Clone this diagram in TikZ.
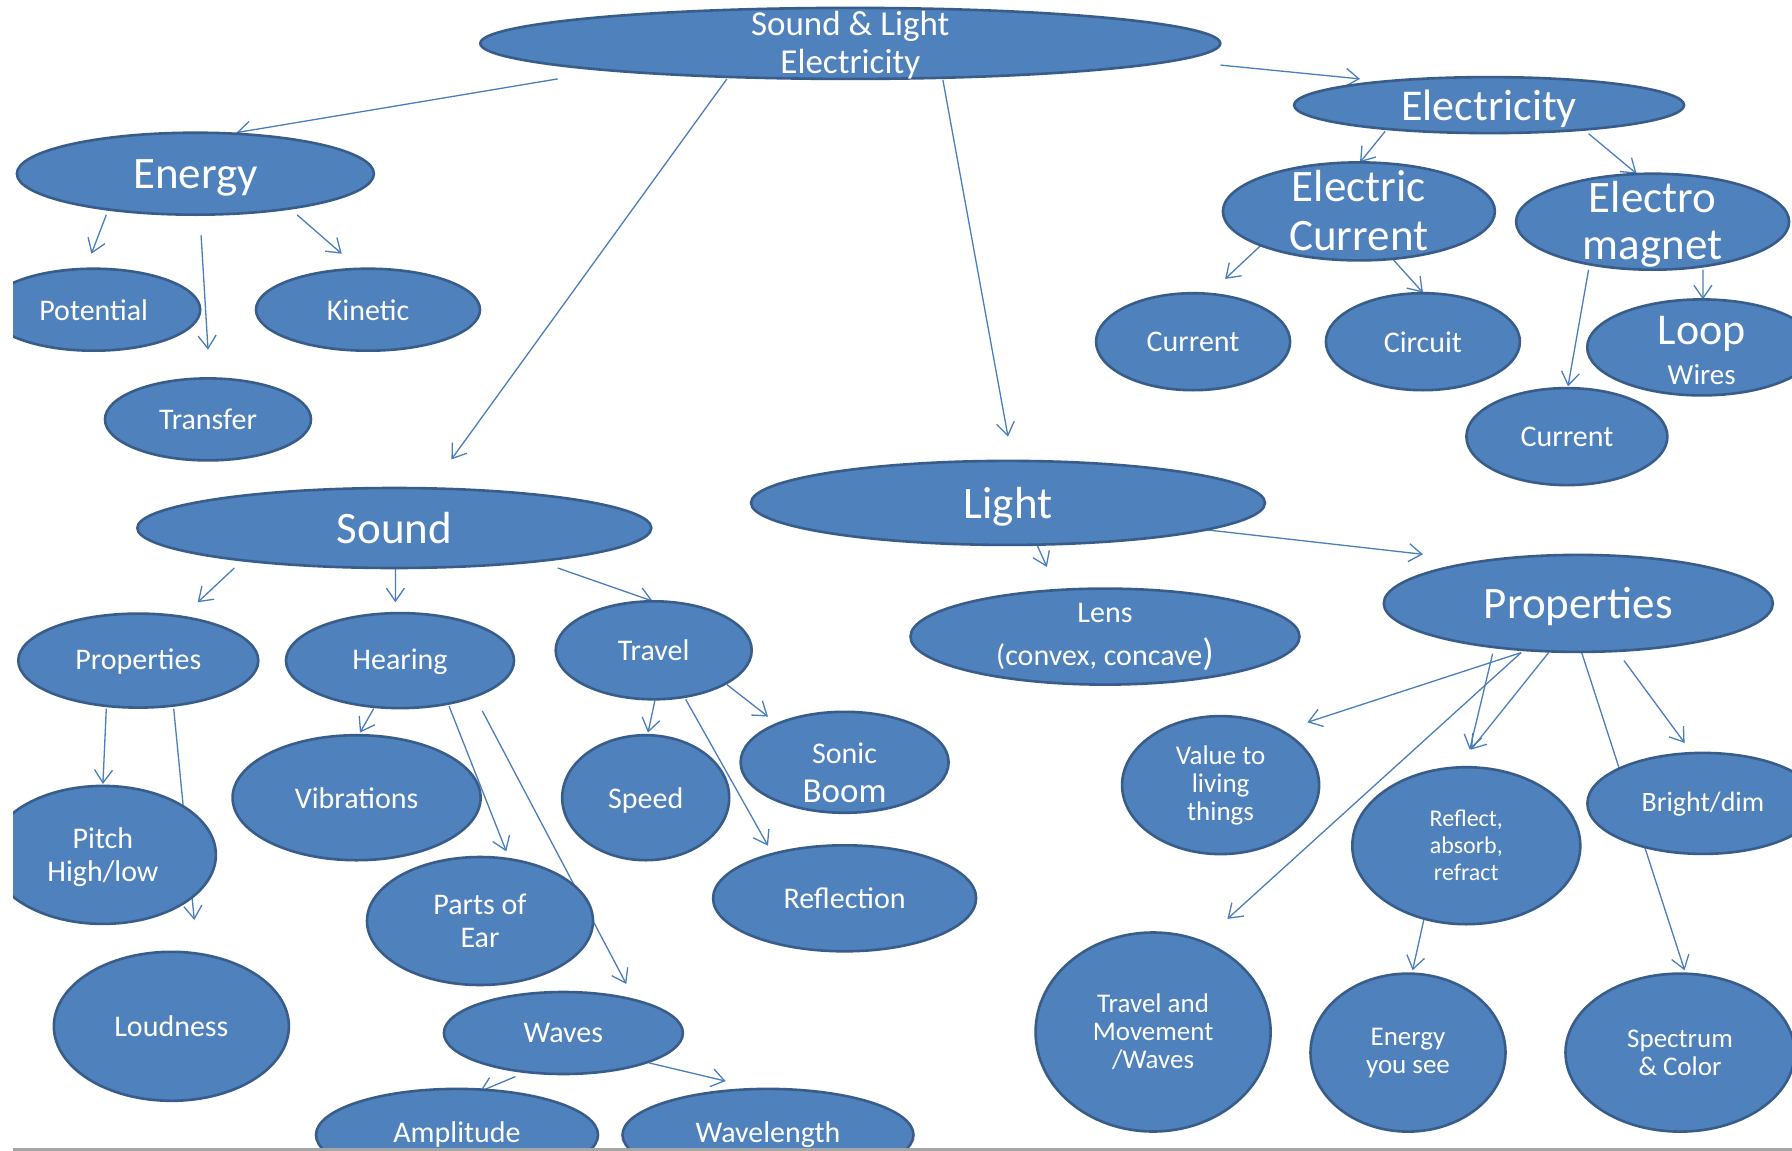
\documentclass[tikz,border=0pt]{standalone}
\usepackage{fontspec}
\setmainfont{Carlito}
\usetikzlibrary{shapes.geometric,arrows.meta,calc,backgrounds}
\definecolor{bubfill}{HTML}{4F81BD}
\definecolor{bubline}{HTML}{385D8A}
\definecolor{linkcol}{HTML}{4A7EBB}
\definecolor{rulegray}{HTML}{A6A6A6}
\tikzset{
  bub/.style 2 args={ellipse, fill=bubfill, draw=bubline, line width=2.6pt,
    minimum width=#1, minimum height=#2, inner sep=0pt, outer sep=0pt},
  lbl/.style 2 args={text=white, align=center, inner sep=0pt, anchor=center,
    font=\fontsize{#1}{#2}\selectfont},
  one/.style={text depth=0pt},
  conn/.style={draw=linkcol, line width=1.3pt,
    -{Straight Barb[length=13pt,width=18pt,line width=1.3pt]}},
}
\begin{document}
\begin{tikzpicture}[x=1pt,y=-1pt]
\useasboundingbox (0,0) rectangle (1792,1151);
\begin{scope}
\clip (13,0) rectangle (1792,1147);

% ---------- nodes ----------
\node[bub={740}{71}, label={[lbl={35}{38}, yshift=-2pt]center:Sound \& Light\\Electricity}] (root) at (850.3,43.4) {};

\node[bub={357}{82}, label={[lbl={45}{48}, one]center:Energy}] (energy) at (195.4,173.7) {};
\node[bub={213}{82}, label={[lbl={30}{33}, one]center:Potential}] (potential) at (93.7,309.7) {};
\node[bub={224}{82}, label={[lbl={30}{33}, one]center:Kinetic}] (kinetic) at (368,309.7) {};
\node[bub={206}{82}, label={[lbl={30}{33}, one]center:Transfer}] (transfer) at (208,419.4) {};

\node[bub={514}{80}, label={[lbl={45}{48}, one]center:Sound}] (sound) at (394.3,528) {};
\node[bub={240}{94}, label={[lbl={30}{33}, one, yshift=1pt]center:Properties}] (props) at (138.3,660.6) {};
\node[bub={228}{95}, label={[lbl={30}{33}, one, yshift=1pt]center:Hearing}] (hearing) at (400,660.6) {};
\node[bub={196}{98}, label={[lbl={30}{33}, one]center:Travel}] (travels) at (653.7,650.3) {};
\node[bub={226}{138}, label={[lbl={30}{33}, yshift=-2pt]center:Pitch\\High/low}] (pitch) at (102.9,854.9) {};
\node[bub={235}{149}, label={[lbl={30}{33}, one]center:Loudness}] (loudness) at (171.4,1026.3) {};
\node[bub={248}{125}, label={[lbl={30}{33}, one]center:Vibrations}] (vibrations) at (356.6,797.7) {};
\node[bub={226}{128}, label={[lbl={30}{33}]center:Parts of\\Ear}] (partsear) at (480,921) {};
\node[bub={239}{82}, label={[lbl={30}{33}, one]center:Waves}] (waves) at (563.4,1033) {};
\node[bub={282}{92}, label={[lbl={30}{33}, one, yshift=3pt]center:Amplitude}] (amplitude) at (457,1134.9) {};
\node[bub={291}{92}, label={[lbl={30}{33}, one, yshift=3pt]center:Wavelength}] (wavelength) at (768,1134.9) {};
\node[bub={167}{125}, label={[lbl={30}{33}, one]center:Speed}] (speed) at (645.7,797.7) {};
\node[bub={208}{101}, label={[lbl={30}{39}, yshift=-10pt]center:Sonic\\{\fontsize{35}{39}\selectfont Boom}}] (sonic) at (844.6,762.3) {};
\node[bub={263}{106}, label={[lbl={30}{33}, one]center:Reflection}] (reflection) at (844.6,898.3) {};

\node[bub={514}{84}, label={[lbl={45}{48}, one]center:Light}] (light) at (1008,502.9) {};
\node[bub={389}{96}, label={[lbl={30}{43}]center:Lens\\(convex, concave{\fontsize{38}{43}\selectfont )}}] (lens) at (1105,636.6) {};
\node[bub={389}{97}, label={[lbl={45}{48}, one]center:Properties}] (propl) at (1578.3,603.4) {};
\node[bub={197}{138}, label={[lbl={27}{28}]center:Value to\\living\\things}] (value) at (1220.6,785.1) {};
\node[bub={228}{157}, label={[lbl={24}{27}]center:Reflect,\\absorb,\\refract}] (reflect) at (1466.3,845.7) {};
\node[bub={231}{101}, label={[lbl={28}{31}, one, yshift=2pt]center:Bright/dim}] (bright) at (1702.9,803.4) {};
\node[bub={235}{199}, label={[lbl={27}{28}]center:Travel and\\Movement\\/Waves}] (travell) at (1153.1,1032) {};
\node[bub={195}{158}, label={[lbl={27}{28}]center:Energy\\you see}] (energysee) at (1408,1052.6) {};
\node[bub={229}{158}, label={[lbl={27}{28}]center:Spectrum\\\& Color}] (spectrum) at (1680,1052.6) {};

\node[bub={390}{56}, label={[lbl={44}{47}, one]center:Electricity}] (electricity) at (1489.1,105.1) {};
\node[bub={272}{98}, label={[lbl={45}{49}, yshift=1pt]center:Electric\\Current}] (ecurrent) at (1358.9,211.4) {};
\node[bub={273}{96}, label={[lbl={45}{47}, yshift=-3pt]center:Electro\\magnet}] (emagnet) at (1652.6,221.7) {};
\node[bub={194}{97}, label={[lbl={30}{33}, one]center:Current}] (currenta) at (1193.1,341.7) {};
\node[bub={194}{97}, label={[lbl={30}{33}, one]center:Circuit}] (circuit) at (1422.9,341.7) {};
\node[bub={229}{96}, label={[lbl={44}{40}, yshift=-3pt]center:Loop\\{\fontsize{29}{40}\selectfont Wires}}] (loop) at (1701.7,347.4) {};
\node[bub={201}{97}, label={[lbl={30}{33}, one]center:Current}] (currentb) at (1566.9,436.6) {};
\end{scope}

% ---------- connectors, drawn behind the bubbles ----------
\begin{pgfonlayer}{background}
\fill[white] (0,0) rectangle (1792,1151);
\begin{scope}
\clip (13,0) rectangle (1792,1147);
\path[conn] ($(root)+(-292.6,35.5)$) -- ($(energy)+(41.2,-41.1)$);
\path[conn] ($(root)+(-123.4,35.5)$) -- ($(sound)+(57.1,-68.6)$);
\path[conn] ($(root)+(92.6,36.6)$) -- ($(light)+(0,-66.3)$);
\path[conn] ($(root)+(370.3,21.7)$) -- ($(electricity)+(-129.1,-26.2)$);

\path[conn] ($(energy)+(-89.1,41.2)$) -- ($(potential)+(-2.3,-56)$);
\path[conn] ($(energy)+(5.7,61.7)$) -- ($(transfer)+(0,-69.7)$);
\path[conn] ($(energy)+(101.7,41.2)$) -- ($(kinetic)+(-26.3,-56)$);

\path[conn] ($(electricity)+(-104,26.3)$) -- ($(ecurrent)+(1.1,-49.1)$);
\path[conn] ($(electricity)+(99.5,28.6)$) -- ($(emagnet)+(-16,-48)$);
\path[conn] ($(ecurrent)+(-97.2,33.2)$) -- ($(currenta)+(32,-62.8)$);
\path[conn] ($(ecurrent)+(33.1,46.9)$) -- ($(circuit)+(0,-49.1)$);
\path[conn] ($(emagnet)+(-64,48)$) -- ($(currentb)+(1.1,-50.3)$);
\path[conn] ($(emagnet)+(50.3,48)$) -- ($(loop)+(1.2,-48)$);

\path[conn] ($(sound)+(-160,40)$) -- ($(props)+(59.4,-58.3)$);
\path[conn] ($(sound)+(1.1,40)$) -- ($(hearing)+(-4.6,-58.3)$);
\path[conn] ($(sound)+(163.4,40)$) -- ($(travels)+(-1.1,-49.2)$);
\path[conn] ($(props)+(-32,48)$) -- ($(pitch)+(0,-70.9)$);
\path[conn] ($(props)+(35.4,48)$) -- ($(loudness)+(22.9,-106.3)$);
\path[conn] ($(hearing)+(-26.3,48)$) -- ($(vibrations)+(3.4,-65.1)$);
\path[conn] ($(hearing)+(49.1,45.7)$) -- ($(partsear)+(26.3,-69.6)$);
\path[conn] ($(hearing)+(82.3,50.3)$) -- ($(waves)+(62.9,-49)$);
\path[conn] ($(travels)+(1.2,50.3)$) -- ($(speed)+(2.3,-65.1)$);
\path[conn] ($(travels)+(73.2,34.3)$) -- ($(sonic)+(-76.6,-45.7)$);
\path[conn] ($(travels)+(32,49.1)$) -- ($(reflection)+(-76.6,-52.6)$);
\path[conn] ($(waves)+(-48,43.6)$) -- ($(amplitude)+(23,-43.5)$);
\path[conn] ($(waves)+(85.7,29.9)$) -- ($(wavelength)+(-42.3,-53.8)$);

\path[conn] ($(light)+(28.6,41.1)$) -- ($(lens)+(-58.1,-69.7)$);
\path[conn] ($(light)+(192,26.2)$) -- ($(propl)+(-155.4,-49.1)$);
\path[conn] ($(propl)+(-57.2,49.2)$) -- ($(value)+(86.8,-62.8)$);
\path[conn] ($(propl)+(-57.2,49.2)$) -- ($(travell)+(74.3,-113.1)$);
\path[conn] ($(propl)+(-85.7,50.3)$) -- ($(reflect)+(3.4,-96)$);
\path[conn] ($(propl)+(-29.7,49.2)$) -- ($(reflect)+(4.6,-96)$);
\path[conn] ($(propl)+(45.7,57.2)$) -- ($(bright)+(-18.3,-60.5)$);
\path[conn] ($(propl)+(3.4,49.2)$) -- ($(spectrum)+(4.6,-82.3)$);
\path[conn] ($(reflect)+(-42.3,73.2)$) -- ($(energysee)+(4.6,-82.3)$);
\end{scope}
\end{pgfonlayer}

% ---------- bottom rule ----------
\fill[rulegray] (13,1147.5) rectangle (1792,1151);
\end{tikzpicture}
\end{document}
